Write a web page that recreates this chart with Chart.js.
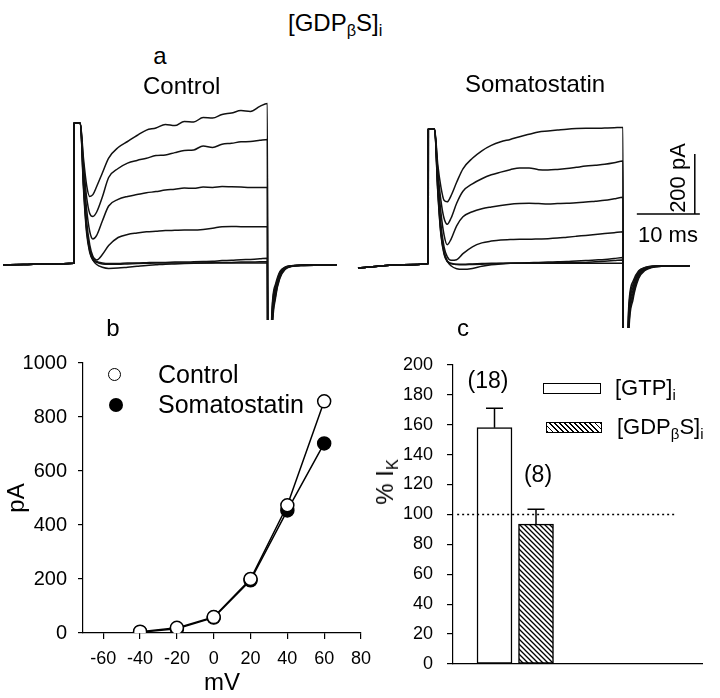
<!DOCTYPE html>
<html><head><meta charset="utf-8">
<script src="https://cdn.jsdelivr.net/npm/chart.js@4/dist/chart.umd.min.js"></script>
<style>
html,body{margin:0;padding:0;background:#fff;}
#fig{position:relative;width:720px;height:698px;overflow:hidden;background:#fff;font-family:"Liberation Sans",Arial,sans-serif;color:#000;}
canvas{position:absolute;}
.t{position:absolute;white-space:nowrap;line-height:1;}
.s{font-size:0.68em;position:relative;top:0.32em;line-height:0;}
.rot{position:absolute;white-space:nowrap;line-height:1;transform:translate(-50%,-50%) rotate(-90deg);}
</style></head><body><div id="fig">
<canvas id="cCtrl" width="345" height="230" style="left:0px;top:90px"></canvas>
<canvas id="cSom" width="350" height="238" style="left:355px;top:90px"></canvas>
<canvas id="cIV" width="380" height="358" style="left:0px;top:340px"></canvas>
<canvas id="cBar" width="360" height="358" style="left:360px;top:340px"></canvas>

<div class="t" style="left:288px;top:11px;font-size:24px">[GDP<span class="s">β</span>S]<span class="s">i</span></div>
<div class="t" style="left:160px;top:44px;font-size:24px;transform:translateX(-50%)">a</div>
<div class="t" style="left:143px;top:74px;font-size:24px">Control</div>
<div class="t" style="left:465px;top:72px;font-size:24px">Somatostatin</div>
<div class="t" style="left:638px;top:224px;font-size:22px">10 ms</div>
<div class="rot" style="left:678px;top:178px;font-size:22px">200 pA</div>
<div class="t" style="left:113px;top:316px;font-size:24px;transform:translateX(-50%)">b</div>
<div class="t" style="left:463px;top:316px;font-size:24px;transform:translateX(-50%)">c</div>

<div style="position:absolute;left:108px;top:368px;width:11px;height:11px;border:1.5px solid #000;border-radius:50%;background:#fff"></div>
<div class="t" style="left:158px;top:362px;font-size:25px">Control</div>
<div style="position:absolute;left:109px;top:398px;width:14px;height:14px;border-radius:50%;background:#000"></div>
<div class="t" style="left:158px;top:392px;font-size:25px">Somatostatin</div>

<div class="t" style="left:488px;top:369px;font-size:23px;transform:translateX(-50%)">(18)</div>
<div class="t" style="left:538px;top:463px;font-size:23px;transform:translateX(-50%)">(8)</div>
<div style="position:absolute;left:543px;top:383px;width:58px;height:11px;box-sizing:border-box;border:1.5px solid #000;background:#fff"></div>
<div class="t" style="left:615px;top:377px;font-size:22px">[GTP]<span class="s">i</span></div>
<div style="position:absolute;left:546px;top:422px;width:56px;height:11px;box-sizing:border-box;border:1.5px solid #000;background:repeating-linear-gradient(45deg,#000 0 1.3px,#fff 1.3px 3.6px)"></div>
<div class="t" style="left:617px;top:416px;font-size:22px">[GDP<span class="s">β</span>S]<span class="s">i</span></div>
<div class="rot" style="left:385px;top:482px;font-size:24px">% I<span class="s">K</span></div>
</div>
<script>
// ---------- Panel a: current traces (time in ms, current in pA) ----------
const ctrlTime = [-11.27,-8,-4,-0.01,0,1.0,1.5,2.0,2.5,3.0,3.6,4.5,5.5,7.0,8.5,10,11.5,13,14.5,16,17.5,19,20.5,22,23.5,25,26.5,28,29.5,30.7,30.8,31.4,32.0,32.7,33.5,34.5,36.5,39,41.7];
const ctrlTrace1 = [-6,-5,-3,-1,466,466,350,260,222,228,255,300,350,385,405,425,443,450,462,458,472,470,485,483,495,500,508,505,522,532,-900,-170,-70,-28,-14,-9,-7,-6,-6];
const ctrlTrace2 = [-6,-5,-3,-1,466,466,330,220,165,155,170,220,285,315,333,342,349,358,360,368,375,377,390,385,396,399,404,405,409,412,-900,-180,-78,-31,-15,-9,-7,-6,-6];
const ctrlTrace3 = [-6,-5,-3,-1,466,466,310,180,105,80,92,140,190,212,222,228,234,238,243,246,250,249,253,252,255,254,253,252,252,252,-900,-200,-85,-35,-16,-10,-7,-6,-6];
const ctrlTrace4 = [-6,-5,-3,-1,466,466,290,140,60,22,10,28,58,85,95,100,104,106,108,109,110,110,112,116,121,122,121,121,121,121,-900,-215,-92,-38,-17,-10,-7,-6,-6];
const ctrlTrace5 = [-6,-5,-3,-1,466,466,270,120,45,15,5,0,-2,-2,0,0,1,2,2,3,3,4,5,6,8,9,11,12,14,16,-900,-230,-100,-42,-19,-11,-8,-7,-6];
const ctrlTrace6 = [-6,-5,-3,-1,466,466,260,110,40,10,-5,-14,-18,-17,-14,-11,-8,-6,-4,-3,-2,-1,0,1,2,2,3,3,4,4,-900,-245,-108,-46,-20,-11,-8,-7,-6];
const ctrlTrace7 = [-6,-5,-3,-1,466,466,250,100,35,10,2,-3,-4,-4,-3,-2,-1,0,0,0,0,0,0,0,0,0,0,0,0,0,-900,-260,-115,-50,-22,-12,-8,-7,-6];

const somTime = [-11.16,-8,-4,-0.01,0,1.0,1.5,2.0,2.5,3.0,3.6,4.5,5.5,7.0,8.5,10,11.5,13,14.5,16,17.5,19,20.5,22,23.5,25,26.5,28,29.5,30.9,31.0,31.8,32.5,33.4,34.4,35.5,37,39.5,41.5];
const somTrace1 = [-16,-10,-5,-1,447,447,330,255,210,205,225,270,315,350,375,393,405,413,422,430,438,441,444,447,449,450,450,451,452,453,-900,-150,-60,-25,-14,-10,-9,-8,-8];
const somTrace2 = [-16,-10,-5,-1,447,447,310,210,150,130,150,200,240,265,282,295,304,312,318,318,312,311,313,316,320,324,327,330,335,341,-900,-165,-70,-28,-15,-10,-9,-8,-8];
const somTrace3 = [-16,-10,-5,-1,447,447,290,170,95,62,80,125,155,172,182,188,193,197,199,200,199,198,199,200,202,204,207,210,215,220,-900,-180,-80,-32,-17,-11,-9,-8,-8];
const somTrace4 = [-16,-10,-5,-1,447,447,270,130,55,22,10,12,32,55,68,74,78,79,80,80,81,82,84,87,90,93,96,99,102,105,-900,-195,-90,-36,-18,-11,-9,-8,-8];
const somTrace5 = [-16,-10,-5,-1,447,447,255,110,40,8,-8,-18,-20,-17,-10,-5,-2,0,1,2,3,4,5,6,8,9,11,13,16,19,-900,-210,-100,-40,-20,-12,-10,-8,-8];
const somTrace6 = [-16,-10,-5,-1,447,447,245,100,35,8,0,-4,-5,-4,-3,-2,-1,0,0,1,1,1,2,2,3,3,5,7,9,11,-900,-225,-110,-45,-22,-13,-10,-9,-8];
const somTrace7 = [-16,-10,-5,-1,447,447,240,95,30,6,-1,-3,-3,-2,-1,0,0,0,0,0,0,0,0,0,0,0,0,0,0,0,-900,-240,-120,-50,-24,-14,-10,-9,-8];

// scale bar (10 ms, 200 pA)
const scaleBarMs = 10;
const scaleBarPA = 200;
const scaleBarCorner = {t: 43.1, pA: 164};
const scaleBarVertT = 42.3;

// ---------- Panel b: I-V relation ----------
const ivVoltage = [-40,-20,0,20,40,60];
const ivControl = [5,19,59,200,473,858];
const ivSomatostatin = [3,16,57,195,454,702];
const ivXTicks = [-60,-40,-20,0,20,40,60,80];

// ---------- Panel c: % I_K ----------
const barLabels = ['[GTP]i','[GDPβS]i'];
const barPositions = [1,2];
const barMeans = [158,93.5];
const barSEM = [13,10];
const refLevel = 100;
const refSpan = [0.1,5.4];

const FONT = '"Liberation Sans", Arial, sans-serif';
Chart.defaults.font.family = FONT;
Chart.defaults.color = '#000';

function traceSets(time, traces){
  return traces.map(v => ({
    data: time.map((t,i)=>({x:t,y:v[i]})),
    borderColor:'#111', borderWidth:1.5, pointRadius:0, fill:false,
    cubicInterpolationMode:'monotone', borderJoinStyle:'round'
  }));
}
function baseTraceOpts(xr, yr){
  return {responsive:false, animation:false, events:[], layout:{padding:0},
    plugins:{legend:{display:false}, tooltip:{enabled:false}},
    scales:{x:{type:'linear', display:false, min:xr[0], max:xr[1]},
            y:{type:'linear', display:false, min:yr[0], max:yr[1]}}};
}

new Chart(document.getElementById('cCtrl'), {
  type:'line',
  data:{datasets: traceSets(ctrlTime,[ctrlTrace1,ctrlTrace2,ctrlTrace3,ctrlTrace4,ctrlTrace5,ctrlTrace6,ctrlTrace7])},
  options: baseTraceOpts([-11.746,43.016],[-190,576.7])
});

const somSets = traceSets(somTime,[somTrace1,somTrace2,somTrace3,somTrace4,somTrace5,somTrace6,somTrace7]);
somSets.push({data:[{x:scaleBarVertT,y:scaleBarCorner.pA},{x:scaleBarVertT,y:scaleBarCorner.pA+scaleBarPA}], borderColor:'#000', borderWidth:1.5, pointRadius:0});
somSets.push({data:[{x:scaleBarCorner.t-scaleBarMs,y:scaleBarCorner.pA},{x:scaleBarCorner.t,y:scaleBarCorner.pA}], borderColor:'#000', borderWidth:1.5, pointRadius:0});
new Chart(document.getElementById('cSom'), {
  type:'line',
  data:{datasets: somSets},
  options: baseTraceOpts([-11.635,43.92],[-215.7,577.7])
});

// Panel b
new Chart(document.getElementById('cIV'), {
  type:'line',
  data:{datasets:[
    {label:'Control', data: ivVoltage.map((v,i)=>({x:v,y:ivControl[i]})), borderColor:'#000', borderWidth:1.5,
     pointRadius:6.5, pointBackgroundColor:'#fff', pointBorderColor:'#000', pointBorderWidth:1.5},
    {label:'Somatostatin', data: ivVoltage.map((v,i)=>({x:v,y:ivSomatostatin[i]})), borderColor:'#000', borderWidth:1.5,
     pointRadius:6.5, pointBackgroundColor:'#000', pointBorderColor:'#000', pointBorderWidth:1.5}
  ]},
  options:{responsive:false, animation:false, events:[],
    layout:{padding:{top:18,right:12,left:0,bottom:0}},
    plugins:{legend:{display:false}, tooltip:{enabled:false}},
    scales:{
      x:{type:'linear', min:-71, max:80,
         afterBuildTicks: s => { s.ticks = ivXTicks.map(v=>({value:v})); },
         afterFit: s => { s.height = 65; },
         ticks:{font:{size:18}, color:'#000', padding:9, maxRotation:0, autoSkip:false, callback: v => String(v)},
         grid:{drawOnChartArea:false, tickLength:6, color:'#000', lineWidth:1.2},
         border:{color:'#000', width:1.2},
         title:{display:true, text:'mV', font:{size:24}, color:'#000', padding:0}},
      y:{type:'linear', min:0, max:1000,
         afterFit: s => { s.width = 83; },
         ticks:{stepSize:200, font:{size:20}, color:'#000', padding:11, callback: v => String(v)},
         grid:{drawOnChartArea:false, tickLength:5, color:'#000', lineWidth:1.2},
         border:{color:'#000', width:1.2},
         title:{display:true, text:'pA', font:{size:24}, color:'#000', padding:{top:3,bottom:0}}}
    }}
});

// Panel c
function makeHatch(){
  const c = document.createElement('canvas'); c.width = 5; c.height = 5;
  const g = c.getContext('2d');
  g.fillStyle = '#fff'; g.fillRect(0,0,5,5);
  g.strokeStyle = '#000'; g.lineWidth = 1.3;
  g.beginPath(); g.moveTo(0,0); g.lineTo(5,5); g.moveTo(-1,4); g.lineTo(1,6); g.moveTo(4,-1); g.lineTo(6,1); g.stroke();
  return g.createPattern(c,'repeat');
}
const errorBars = {
  id:'errorBars',
  afterDatasetsDraw(chart){
    const ctx = chart.ctx, xs = chart.scales.x, ys = chart.scales.y;
    ctx.save(); ctx.strokeStyle = '#000'; ctx.lineWidth = 1.5;
    barPositions.forEach((p,i)=>{
      const x = xs.getPixelForValue(p);
      const y0 = ys.getPixelForValue(barMeans[i]);
      const y1 = ys.getPixelForValue(barMeans[i]+barSEM[i]);
      ctx.beginPath(); ctx.moveTo(x,y0); ctx.lineTo(x,y1);
      ctx.moveTo(x-8.5,y1); ctx.lineTo(x+8.5,y1); ctx.stroke();
    });
    ctx.restore();
  }
};
new Chart(document.getElementById('cBar'), {
  type:'bar',
  data:{datasets:[
    {type:'line', data: refSpan.map(x=>({x, y:refLevel})), borderColor:'#000', borderWidth:1.5, borderDash:[2,3], pointRadius:0},
    {type:'bar', label:'% IK', data: barPositions.map((x,i)=>({x, y:barMeans[i]})),
     backgroundColor:['#fff', makeHatch()], borderColor:'#000', borderWidth:1.5, barThickness:35, borderSkipped:false}
  ]},
  options:{responsive:false, animation:false, events:[],
    layout:{padding:{top:20,right:18,left:0,bottom:0}},
    plugins:{legend:{display:false}, tooltip:{enabled:false}},
    scales:{
      x:{type:'linear', min:0, max:6, offset:false,
         afterFit: s => { s.height = 34; },
         ticks:{display:false}, grid:{display:false},
         border:{color:'#000', width:1.2}},
      y:{type:'linear', min:0, max:200,
         afterFit: s => { s.width = 93; },
         ticks:{stepSize:20, font:{size:18}, color:'#000', padding:14},
         grid:{drawOnChartArea:false, tickLength:6, color:'#000', lineWidth:1.2},
         border:{color:'#000', width:1.2}}
    }},
  plugins:[errorBars]
});
</script>
</body></html>
